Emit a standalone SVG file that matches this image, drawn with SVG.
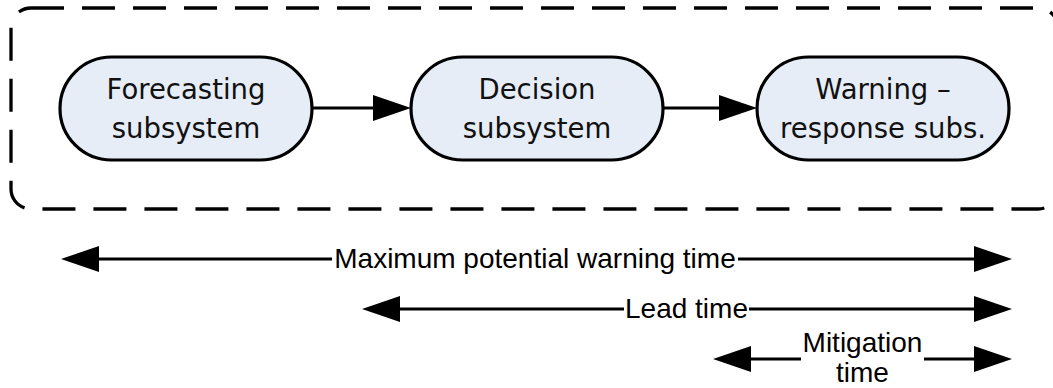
<svg xmlns="http://www.w3.org/2000/svg" width="1053" height="388" viewBox="0 0 1053 388">
  <style>
    .frame { fill: none; stroke: #000; stroke-width: 3.3; stroke-dasharray: 33 18; }
    .node rect { fill: #e6edf7; stroke: #000; stroke-width: 3.2; }
    .node text { font-family: "DejaVu Sans", Verdana, sans-serif; font-size: 27.5px; fill: #111; text-anchor: middle; }
    .link { stroke: #000; stroke-width: 3; fill: none; }
    .arrow-end { marker-end: url(#head); }
    .arrow-start { marker-start: url(#head); }
    .span-label { font-family: "Liberation Sans", Arial, sans-serif; font-size: 28px; fill: #000; text-anchor: middle; }
  </style>
  <defs>
    <!-- filled triangular head, origin at its base so the line stops where the head begins -->
    <marker id="head" markerUnits="userSpaceOnUse" markerWidth="40" markerHeight="28" refX="0" refY="13" orient="auto-start-reverse" overflow="visible">
      <path d="M0,0 L38,13 L0,26 Z" fill="#000"/>
    </marker>
  </defs>

  <!-- system boundary (right side runs just past the canvas edge) -->
  <rect class="frame" x="11" y="8" width="1047" height="201" rx="20" ry="20"/>

  <g id="forecasting" class="node">
    <rect x="60" y="57" width="252" height="103" rx="51.5" ry="51.5"/>
    <text x="186" y="99">Forecasting</text>
    <text x="186" y="138">subsystem</text>
  </g>

  <g id="decision" class="node">
    <rect x="411" y="57" width="252" height="103" rx="51.5" ry="51.5"/>
    <text x="537" y="99">Decision</text>
    <text x="537" y="138">subsystem</text>
  </g>

  <g id="warning-response" class="node">
    <rect x="757" y="57" width="252" height="103" rx="51.5" ry="51.5"/>
    <text x="883" y="99">Warning –</text>
    <text x="883" y="138">response subs.</text>
  </g>

  <g id="connectors">
    <line class="link arrow-end" x1="313" y1="108" x2="373" y2="108"/>
    <line class="link arrow-end" x1="664" y1="108" x2="719" y2="108"/>
  </g>

  <g id="timeline">
    <!-- maximum potential warning time -->
    <line class="link arrow-start" x1="99" y1="259" x2="332" y2="259"/>
    <text class="span-label" x="535" y="268">Maximum potential warning time</text>
    <line class="link arrow-end" x1="738" y1="259" x2="974" y2="259"/>

    <!-- lead time -->
    <line class="link arrow-start" x1="400" y1="309" x2="624" y2="309"/>
    <text class="span-label" x="686.5" y="318">Lead time</text>
    <line class="link arrow-end" x1="749" y1="309" x2="974" y2="309"/>

    <!-- mitigation time -->
    <line class="link arrow-start" x1="751" y1="359" x2="801" y2="359"/>
    <text class="span-label" x="862.5" y="352">Mitigation</text>
    <text class="span-label" x="862.5" y="382">time</text>
    <line class="link arrow-end" x1="924" y1="359" x2="974" y2="359"/>
  </g>
</svg>
